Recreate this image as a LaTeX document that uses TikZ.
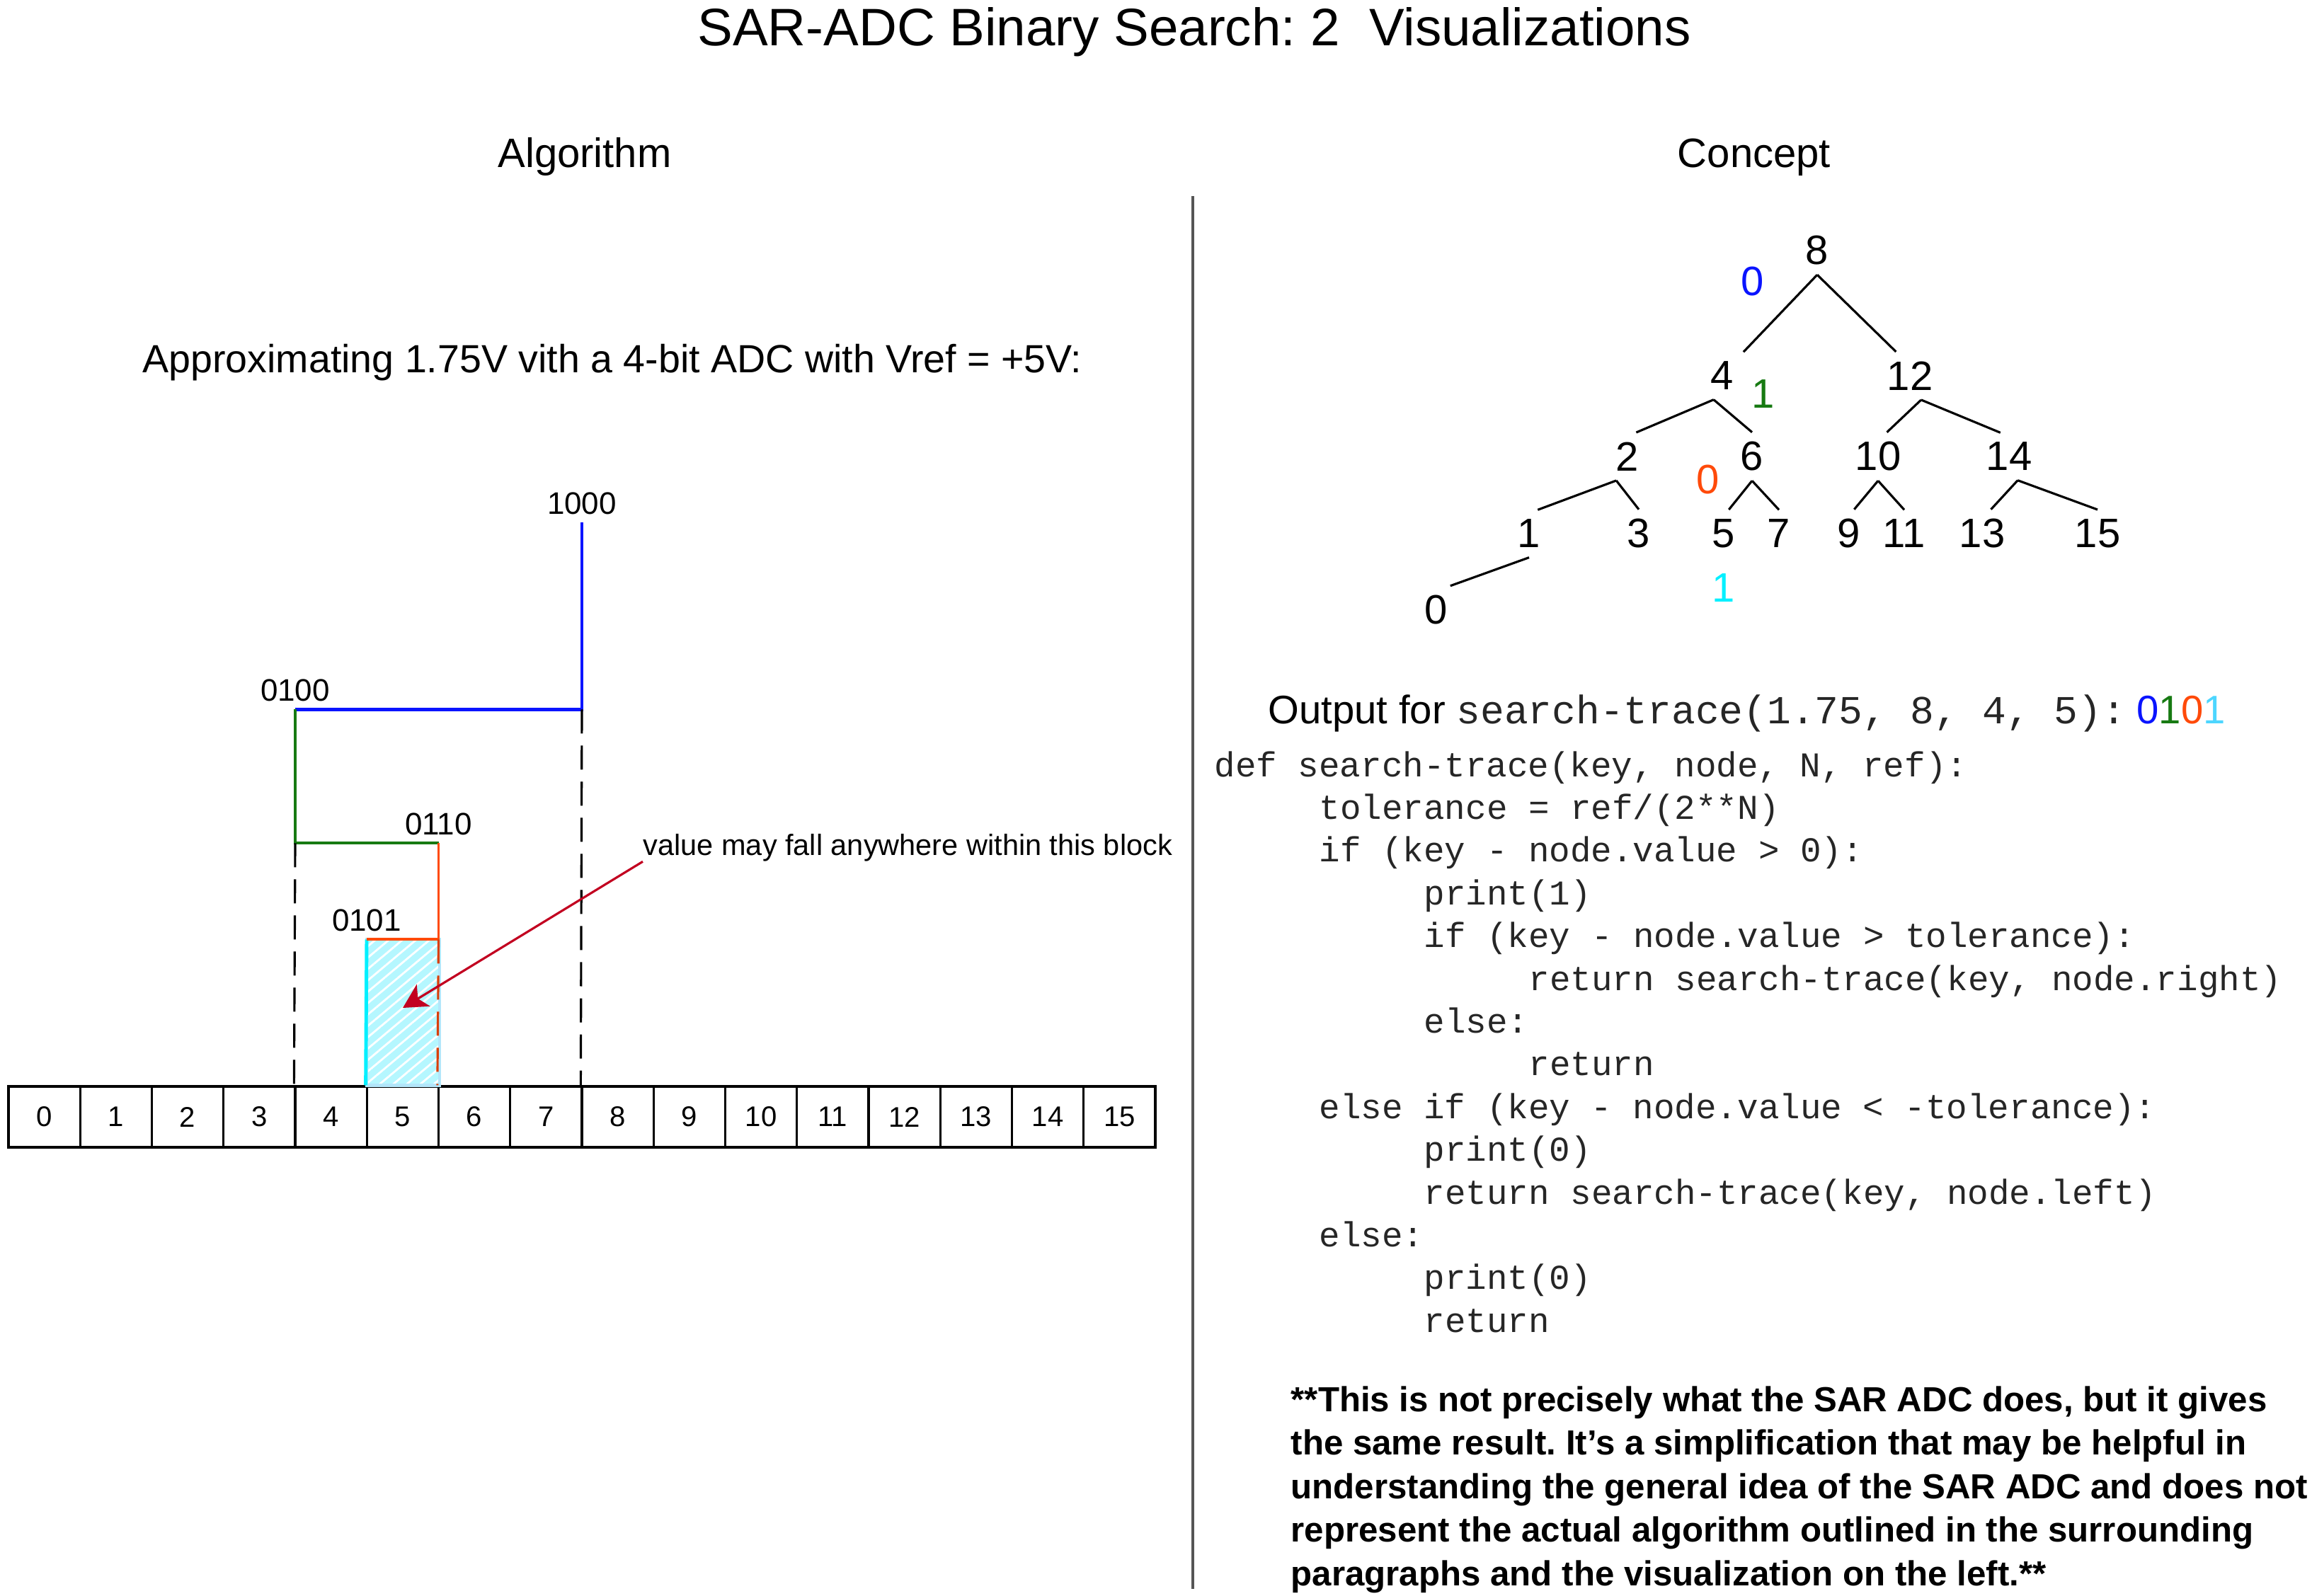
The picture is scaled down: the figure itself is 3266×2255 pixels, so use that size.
\documentclass[tikz,border=0pt]{standalone}
\usepackage{fontspec}
\setmainfont{Liberation Sans}
\setmonofont{Liberation Mono}
\usetikzlibrary{positioning, calc, patterns.meta, arrows.meta}
\definecolor{bitblue}{HTML}{0A14FF}
\definecolor{bitgreen}{HTML}{177A12}
\definecolor{bitred}{HTML}{FF4A0A}
\definecolor{bitcyan}{HTML}{00F0FF}
\definecolor{outcyan}{HTML}{4DD6FF}
\definecolor{pointred}{HTML}{C20020}
\definecolor{blockfill}{HTML}{B5F7FF}
\definecolor{divider}{HTML}{555555}
\newcommand{\sz}[1]{\fontsize{#1}{#1}\selectfont}
\frenchspacing
\tikzset{
    heading/.style = {anchor=base, inner sep=0pt, font=\sz{16.5}},
%     number line
    numcell/.style = {draw, line width=0.9pt, minimum width=1.0125cm, minimum height=0.86cm, inner sep=0pt, font=\sz{11.4}},
    levellabel/.style = {inner sep=0.11cm, font=\sz{12.5}},
    stair/.style = {line width=1.1pt},
    guideline/.style = {line width=0.9pt, dash pattern=on 0.34cm off 0.17cm},
    pointer/.style = {pointred, line width=0.9pt, -{Stealth[length=0.34cm, width=0.36cm, inset=0.09cm]}},
%     tree
    treenum/.style = {inner sep=0.13cm, font=\sz{16.5}},
    bitlabel/.style = {inner sep=0pt, font=\sz{16.5}},
    treeline/.style = {line width=0.9pt},
%     text on the right
    codeline/.style = {anchor=base west, inner sep=0pt, text=black!85, font=\ttfamily\sz{14}},
    footline/.style = {anchor=base west, inner sep=0pt, font=\bfseries\sz{14}},
}

\begin{document}
\begin{tikzpicture}[x=0.01cm, y=-0.01cm]
    \useasboundingbox (0,0) rectangle (3266,2255);

    % Headings
    \node[heading, font=\sz{21.2}] (title) at (1687,65) {SAR-ADC Binary Search: 2\ \ Visualizations};
    \node[heading] (algo) at (826,237) {Algorithm};
    \node[heading] (concept) at (2478,237) {Concept};
    \draw[divider, line width=1.1pt] (1685,277) -- (1685,2245);

    % Algorithm
    \node[heading, font=\sz{15.8}] (approx) at (865,527) {Approximating 1.75V vith a 4-bit ADC with Vref = +5V:};
    \foreach \i in {0,...,15}
        \node[numcell] (cell\i) at ({62.6+101.25*\i},1578) {\i};

    \node[levellabel] (l1000) at (822,711) {1000};
    \node[levellabel] (l0100) at (417,975) {0100};
    \node[levellabel] (l0110) at (619.5,1164) {0110};
    \node[levellabel] (l0101) at (518,1300) {0101};

    % block 5
    \fill[blockfill] (l0101.south) rectangle (cell5.north east);
    \fill[pattern={Lines[angle=40, distance=3.5pt, line width=0.8pt]}, pattern color=white] (l0101.south) rectangle (cell5.north east);
    \draw[cyan!30, line width=1.2pt] (l0101.south) rectangle (cell5.north east);
    \draw[bitcyan, line width=1.4pt] (l0101.south) -- (cell5.north west);

    \draw[stair, bitblue, line width=1.3pt] (l1000.south) |- (l0100.south);
    \draw[stair, bitgreen] (l0100.south) |- (l0110.south);
    \draw[stair, bitred] (l0110.south) |- (l0101.south);
    \draw[guideline] (l0110.south -| l0100.south) -- (cell4.north west);
    \draw[guideline] (l0100.south -| l1000.south) -- (cell8.north west);
    \draw[guideline, bitred!85!black] (l0101.south -| l0110.south) -- (cell6.north west);

    \node[anchor=base west, inner sep=0pt, font=\sz{11.8}] (note) at (908,1208) {value may fall anywhere within this block};
    \coordinate (tip) at (569,1424);
    \draw[pointer] (note.south west) -- (tip);

    % Concept
    \node[treenum] (n8) at (2567,354) {8};
    \node[treenum] (n4) at (2433,531) {4};
    \node[treenum] (n12) at (2698,531) {12};
    \node[treenum] (n2) at (2299,645) {2};
    \node[treenum] (n6) at (2475,645) {6};
    \node[treenum] (n10) at (2653,645) {10};
    \node[treenum] (n14) at (2838,645) {14};
    \node[treenum] (n1) at (2160,754) {1};
    \node[treenum] (n3) at (2315,754) {3};
    \node[treenum] (n5) at (2435,754) {5};
    \node[treenum] (n7) at (2513,754) {7};
    \node[treenum] (n9) at (2612,754) {9};
    \node[treenum] (n11) at (2690,754) {11};
    \node[treenum] (n13) at (2800,754) {13};
    \node[treenum] (n15) at (2963,754) {15};
    \node[treenum] (n0) at (2029,862) {0};
    \foreach \a/\b in {n8.south/n4.north east, n8.south/n12.120, n4.250/n2.70, n4.250/n6.north,
                       n12.295/n10.70, n12.295/n14.110, n2.245/n1.70, n2.245/n3.north,
                       n6.south/n5.78, n6.south/n7.north, n10.south/n9.78, n10.south/n11.north,
                       n14.290/n13.70, n14.290/n15.north, n1.south/n0.60}
        \draw[treeline] (\a) -- (\b);

    \node[bitlabel, bitblue] (bit1) at (2476,398) {0};
    \node[bitlabel, bitgreen] (bit2) at (2491,557) {1};
    \node[bitlabel, bitred] (bit3) at (2413,678) {0};
    \node[bitlabel, bitcyan] (bit4) at (2435,831) {1};

    % Output and code
    \node[anchor=base west, inner sep=0pt, font=\sz{16}] (output) at (1791,1022)
        {Output for \textcolor{black!85}{\texttt{search-trace(1.75, 8, 4, 5):}} \textcolor{bitblue}{0}\textcolor{bitgreen}{1}\textcolor{bitred}{0}\textcolor{outcyan}{1}};
    \foreach \n/\lvl/\txt in {1/0/{def search-trace(key, node, N, ref):},
                             2/1/{tolerance = ref/(2**N)},
                             3/1/{if (key - node.value > 0):},
                             4/2/{print(1)},
                             5/2/{if (key - node.value > tolerance):},
                             6/3/{return search-trace(key, node.right)},
                             7/2/{else:},
                             8/3/{return},
                             9/1/{else if (key - node.value < -tolerance):},
                             10/2/{print(0)},
                             11/2/{return search-trace(key, node.left)},
                             12/1/{else:},
                             13/2/{print(0)},
                             14/2/{return}}
        \node[codeline] (line\n) at ({1715+148*\lvl},{1097+60.4*(\n-1)}) {\txt};

    % Note
    \foreach \n/\txt in {1/{**This is not precisely what the SAR ADC does, but it gives},
                        2/{the same result. It’s a simplification that may be helpful in},
                        3/{understanding the general idea of the SAR ADC and does not},
                        4/{represent the actual algorithm outlined in the surrounding},
                        5/{paragraphs and the visualization on the left.**}}
        \node[footline] (foot\n) at (1823,{1994+61.5*(\n-1)}) {\txt};
\end{tikzpicture}
\end{document}
